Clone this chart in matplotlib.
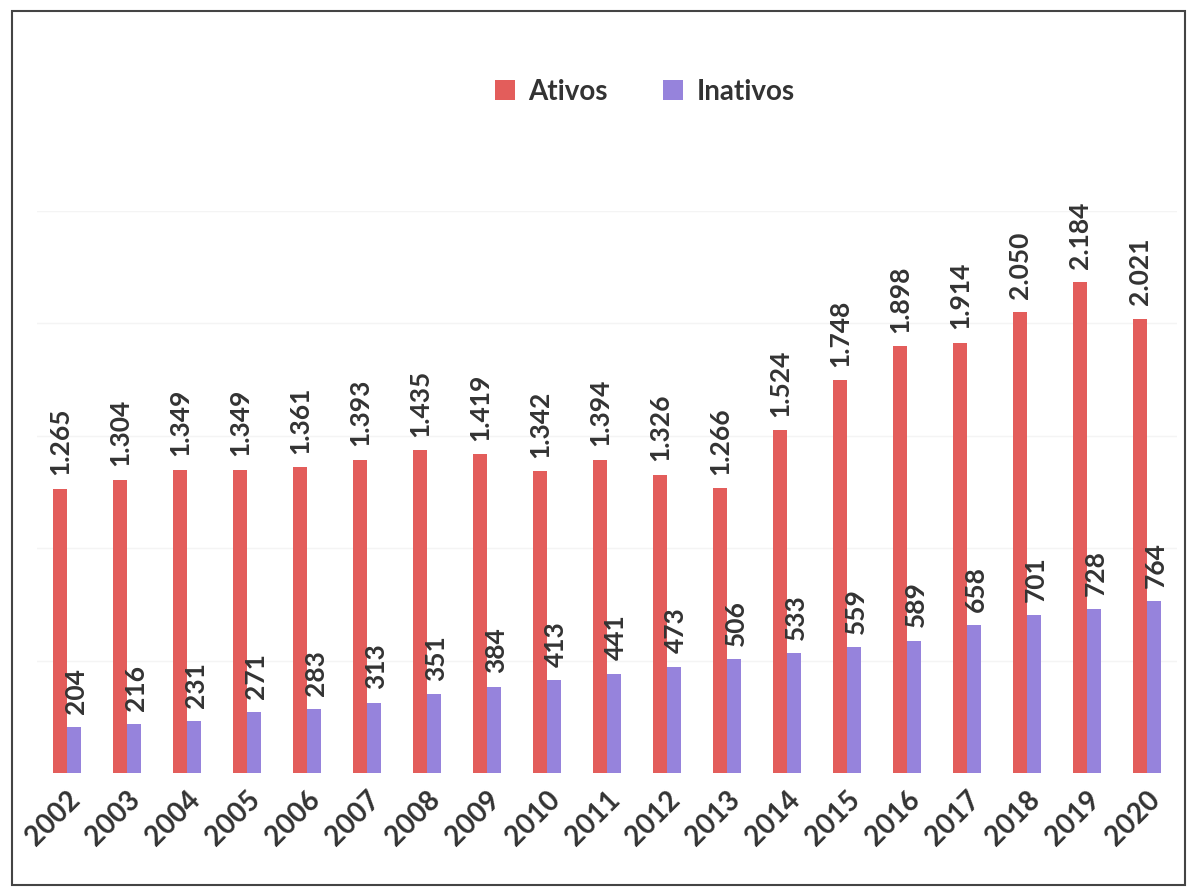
import matplotlib.pyplot as plt
import numpy as np
from matplotlib.patches import Rectangle

plt.rcParams['font.family'] = ['Lato', 'DejaVu Sans']

anos = ['2002', '2003', '2004', '2005', '2006', '2007', '2008', '2009', '2010', '2011',
        '2012', '2013', '2014', '2015', '2016', '2017', '2018', '2019', '2020']
ativos = [1265, 1304, 1349, 1349, 1361, 1393, 1435, 1419, 1342, 1394,
          1326, 1266, 1524, 1748, 1898, 1914, 2050, 2184, 2021]
inativos = [204, 216, 231, 271, 283, 313, 351, 384, 413, 441,
            473, 506, 533, 559, 589, 658, 701, 728, 764]

cor_ativos = '#E35D5B'
cor_inativos = '#9683DC'
cor_texto = '#333333'

def fmt(v):
    # separador de milhar com ponto
    return '{:,}'.format(v).replace(',', '.')

fig = plt.figure(figsize=(11.9, 8.92), dpi=100)
ax = fig.add_axes([0.031, 0.1334, 0.958, 0.63])

x = np.arange(len(anos))
w = 0.23
b1 = ax.bar(x - w / 2, ativos, w, color=cor_ativos, label='Ativos', zorder=2)
b2 = ax.bar(x + w / 2, inativos, w, color=cor_inativos, label='Inativos', zorder=2)

for xi, v in zip(x, ativos):
    ax.text(xi - w / 2, v + 60, fmt(v), rotation=90, ha='center', va='bottom',
            fontsize=19, fontweight='bold', color=cor_texto)
for xi, v in zip(x, inativos):
    ax.text(xi + w / 2 + 0.03, v + 60, fmt(v), rotation=90, ha='center', va='bottom',
            fontsize=19, fontweight='bold', color=cor_texto)

ax.set_xlim(-0.5, len(anos) - 0.5)
ax.set_ylim(0, 2500)
ax.set_yticks([500, 1000, 1500, 2000, 2500])
ax.yaxis.grid(True, color='#F4F4F4', linewidth=1, zorder=0)
ax.tick_params(axis='y', left=False, labelleft=False)
ax.tick_params(axis='x', length=0, pad=10)
ax.set_xticks(x)
ax.set_xticklabels(anos, rotation=45, ha='right', rotation_mode='anchor',
                   fontsize=20, fontweight='bold', color=cor_texto)
for s in ax.spines.values():
    s.set_visible(False)

leg = fig.legend(handles=[b1, b2], labels=['Ativos', 'Inativos'], loc='center',
                 bbox_to_anchor=(0.542, 0.897), ncol=2, frameon=False,
                 prop={'size': 20, 'weight': 'bold'}, handlelength=0.7,
                 handleheight=0.7, handletextpad=0.5, columnspacing=2.0)
for t in leg.get_texts():
    t.set_color(cor_texto)

# moldura da imagem
fig.patches.append(Rectangle((0.010, 0.008), 0.986, 0.980, transform=fig.transFigure,
                             fill=False, edgecolor='#444444', linewidth=1.5))

fig.savefig('out.png', dpi=100)
